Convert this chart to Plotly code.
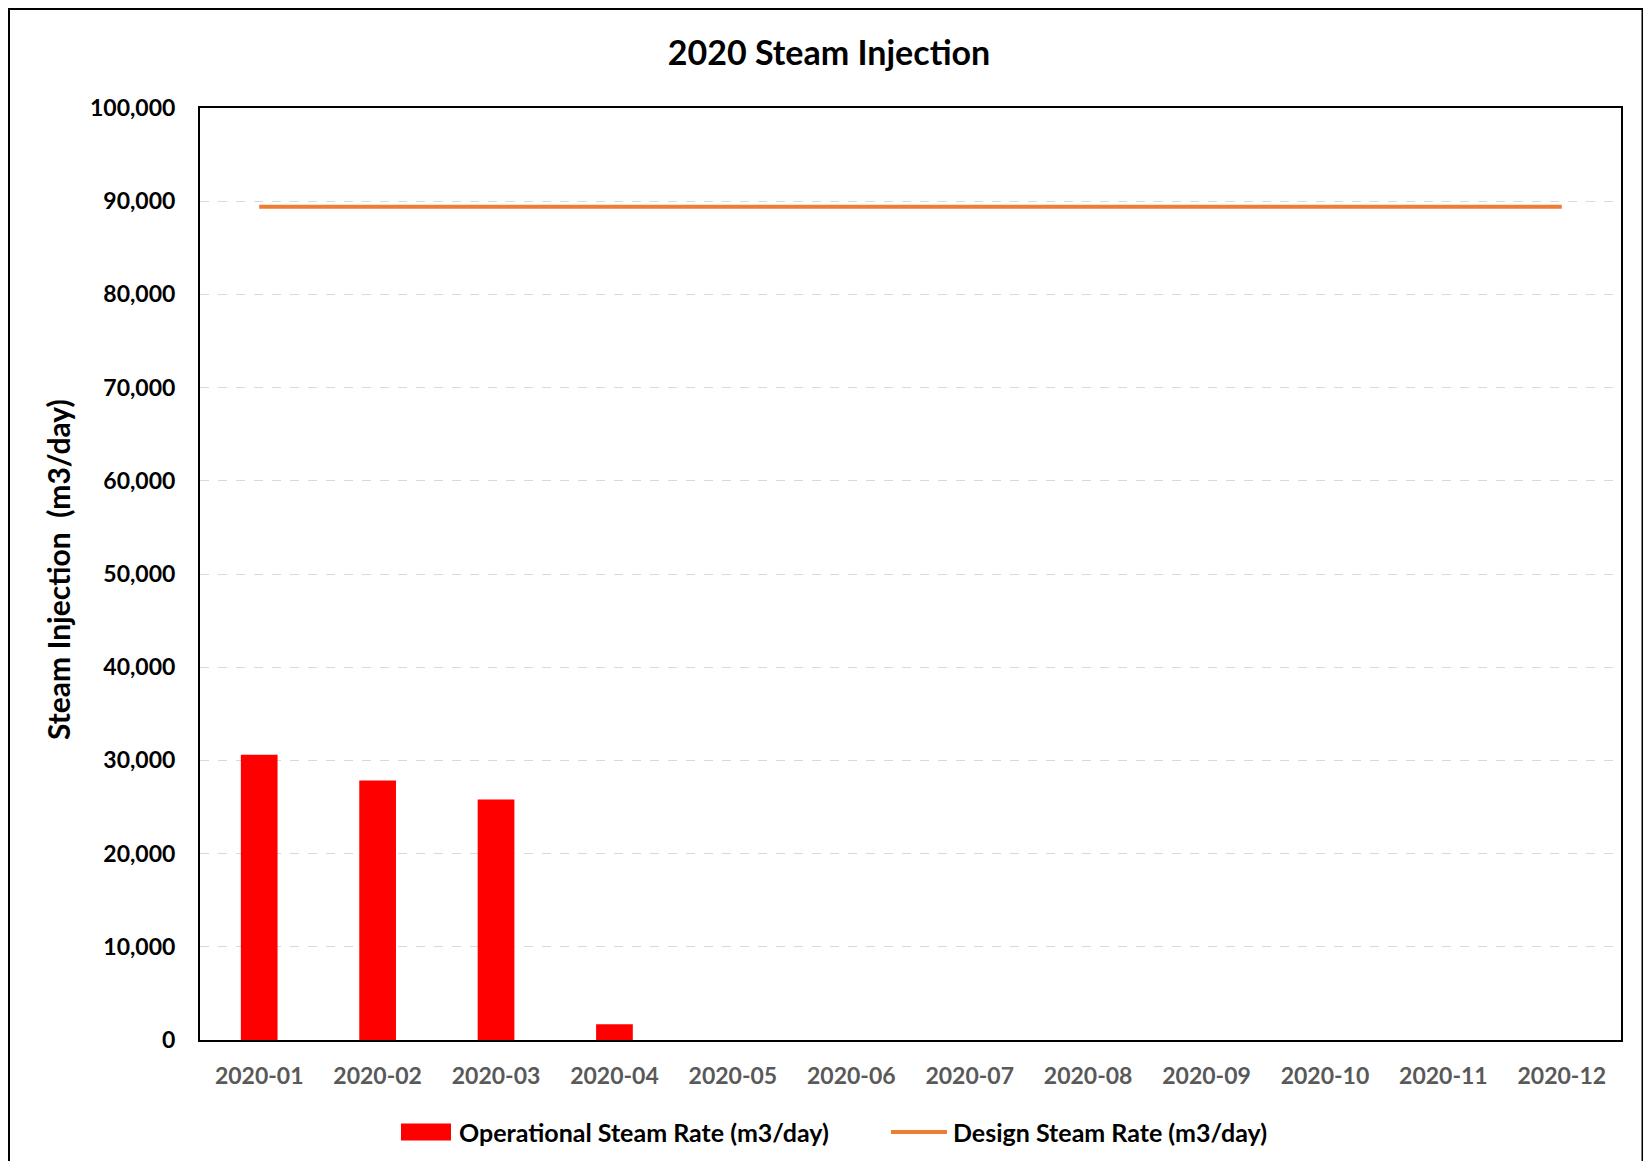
import plotly.graph_objects as go

months = ["2020-01", "2020-02", "2020-03", "2020-04", "2020-05", "2020-06",
          "2020-07", "2020-08", "2020-09", "2020-10", "2020-11", "2020-12"]
operational = [30600, 27850, 25800, 1700, 0, 0, 0, 0, 0, 0, 0, 0]
design = [89400] * 12

FONT = "Lato"
RED = "#FF0000"
ORANGE = "#ED7D31"

# figure is placed 8px in from the page corner (body margin)
W, H = 1643, 1153
L, R, T, B = 192, 30, 100, 121
PW, PH = W - L - R, H - T - B


def xp(px):
    return (px - L) / PW


def yp(py):
    return (H - B - py) / PH


fig = go.Figure()

fig.add_trace(go.Bar(
    x=months, y=operational,
    name="Operational Steam Rate (m3/day)",
    marker=dict(color=RED, line=dict(width=0)),
    width=0.31,
    showlegend=False,
))

fig.add_trace(go.Scatter(
    x=months, y=design,
    mode="lines",
    name="Design Steam Rate (m3/day)",
    line=dict(color=ORANGE, width=4),
    showlegend=False,
))

# outer chart border
fig.add_shape(type="rect", xref="paper", yref="paper",
              x0=xp(1), x1=xp(W - 8.5), y0=yp(H + 30), y1=yp(1),
              line=dict(color="black", width=2), layer="below")

# legend drawn by hand (Excel style swatches)
leg_y = 1124
fig.add_shape(type="rect", xref="paper", yref="paper",
              x0=xp(393), x1=xp(443), y0=yp(leg_y + 8.5), y1=yp(leg_y - 8.5),
              fillcolor=RED, line=dict(width=0))
fig.add_shape(type="line", xref="paper", yref="paper",
              x0=xp(883), x1=xp(939), y0=yp(leg_y), y1=yp(leg_y),
              line=dict(color=ORANGE, width=4))
fig.add_annotation(text="<b>Operational Steam Rate (m3/day)</b>", xref="paper", yref="paper",
                   x=xp(449), y=yp(leg_y), xanchor="left", yanchor="middle",
                   showarrow=False, font=dict(size=25, family=FONT, color="black"))
fig.add_annotation(text="<b>Design Steam Rate (m3/day)</b>", xref="paper", yref="paper",
                   x=xp(943), y=yp(leg_y), xanchor="left", yanchor="middle",
                   showarrow=False, font=dict(size=25, family=FONT, color="black"))

# y axis title
fig.add_annotation(text="<b>Steam Injection  (m3/day)</b>", xref="paper", yref="paper",
                   x=xp(50), y=yp(562), xanchor="center", yanchor="middle",
                   textangle=-90, showarrow=False,
                   font=dict(size=30, family=FONT, color="black"))

fig.update_layout(
    width=W, height=H,
    margin=dict(l=L, r=R, t=T, b=B),
    paper_bgcolor="white", plot_bgcolor="white",
    font=dict(family=FONT, color="black"),
    title=dict(text="<b>2020 Steam Injection</b>", x=821 / W, xanchor="center",
               y=1 - 45 / H, yanchor="middle", font=dict(size=34, family=FONT)),
    showlegend=False,
)

fig.update_xaxes(
    type="category",
    showline=True, linecolor="black", linewidth=2, mirror=True,
    tickfont=dict(size=23, color="#595959", family=FONT),
    tickprefix="<b>", ticksuffix="</b>",
    ticks="", ticklabelstandoff=14,
)

fig.update_yaxes(
    range=[0, 100000], dtick=10000, tickformat=",",
    showline=True, linecolor="black", linewidth=2, mirror=True,
    showgrid=True, gridcolor="#D9D9D9", griddash="dash", gridwidth=1,
    zeroline=False,
    tickfont=dict(size=23, color="black", family=FONT),
    tickprefix="<b>", ticksuffix="</b>",
    ticks="", ticklabelstandoff=18,
)

fig.write_html("out.html")
